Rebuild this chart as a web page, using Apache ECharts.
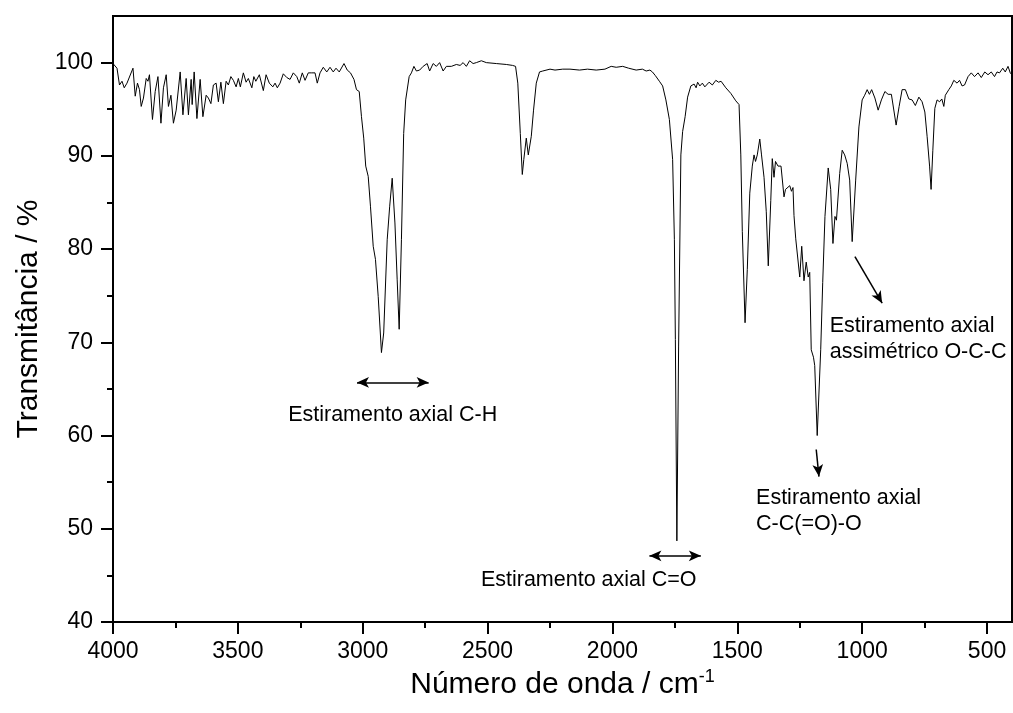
<!DOCTYPE html>
<html>
<head>
<meta charset="utf-8">
<script src="https://cdn.jsdelivr.net/npm/echarts@6/dist/echarts.min.js"></script>
<style>
  html, body { margin: 0; padding: 0; background: #fff; }
  #chart { width: 1013px; height: 713px; }
</style>
</head>
<body>
<div id="chart"></div>
<script>
// FTIR spectrum (cm-1 vs %T)
const wavenumber = [
  4000, 3995, 3984, 3974, 3964, 3955, 3944, 3938, 3920, 3911, 3902, 3894, 3887, 3878, 3867, 3860,
  3854, 3842, 3831, 3820, 3808, 3798, 3787, 3778, 3768, 3758, 3747, 3740, 3731, 3720, 3707, 3698,
  3687, 3683, 3675, 3664, 3651, 3640, 3627, 3618, 3608, 3598, 3587, 3578, 3568, 3558, 3547, 3538,
  3528, 3518, 3507, 3498, 3490, 3478, 3467, 3458, 3444, 3436, 3428, 3414, 3398, 3387, 3374,
  3360, 3351, 3342, 3331, 3318,
  3304, 3291, 3278, 3264, 3254, 3242, 3231, 3218, 3204, 3191, 3182, 3171, 3158, 3144, 3131, 3118,
  3107, 3094, 3075, 3062, 3049, 3035, 3025, 3014, 3005, 2996, 2988, 2978, 2969, 2958, 2949, 2938,
  2925, 2916, 2902, 2892, 2882, 2871, 2862, 2854, 2845, 2836, 2828, 2814, 2805, 2795, 2785, 2772,
  2758, 2742, 2732, 2718, 2705, 2692, 2678, 2665, 2645, 2625, 2610, 2598, 2585, 2572, 2558, 2545,
  2525, 2505, 2465, 2425, 2400, 2388, 2379, 2369, 2361, 2355, 2345, 2337, 2325, 2316, 2305, 2292,
  2279, 2250, 2230, 2199, 2170, 2132, 2100, 2065, 2030, 2005, 1985, 1959, 1935, 1905, 1880, 1865,
  1850, 1840, 1828, 1812, 1799, 1786, 1772, 1759, 1752, 1748, 1742, 1735, 1726, 1719, 1709, 1699,
  1686, 1673, 1665, 1659, 1650, 1640, 1630, 1613, 1600, 1586, 1575, 1565, 1546, 1526, 1506, 1493,
  1486, 1480, 1469, 1460, 1450, 1440, 1433, 1427, 1420, 1410, 1403, 1393, 1384, 1376, 1366, 1360,
  1353, 1347, 1337, 1325, 1313, 1307, 1300, 1290, 1283, 1277, 1273, 1266, 1260, 1250, 1242, 1233,
  1224, 1216, 1210, 1204, 1195, 1190, 1180, 1166, 1158, 1149, 1136, 1126, 1117, 1109, 1103, 1090,
  1080, 1070, 1060, 1050, 1040, 1026, 1013, 1000, 990, 980, 971, 962, 949, 936, 923, 909,
  896, 883, 864, 852, 840, 827, 813, 800, 787, 773, 760, 749, 740, 730, 724, 717,
  709, 700, 690, 681, 673, 667, 660, 653, 643, 633, 620, 610, 600, 590, 576, 563,
  550, 536, 523, 509, 496, 483, 470, 460, 450, 437, 427, 416, 407, 400
];
const transmittance = [
  99.9, 99.75, 99.4, 97.6, 98.0, 97.3, 97.8, 97.6, 99.4, 96.4, 97.8, 97.1, 95.3, 96.2, 98.3, 98.0,
  98.7, 93.9, 96.9, 98.5, 93.5, 97.3, 98.7, 95.3, 96.5, 93.5, 94.9, 94.7, 99.0, 94.4, 98.3, 94.4,
  98.2, 95.5, 99.0, 94.0, 98.2, 94.2, 96.5, 96.2, 95.6, 97.6, 97.8, 95.8, 97.9, 95.6, 98.0, 97.6,
  98.5, 98.1, 97.4, 98.3, 97.4, 98.9, 97.9, 98.3, 97.3, 98.5, 98.0, 98.7, 97.0, 98.7, 97.8,
  97.4, 97.8, 97.3, 97.8, 98.8,
  98.4, 98.2, 98.9, 98.5, 97.8, 98.9, 98.1, 98.9, 98.9, 98.9, 97.8, 98.9, 99.5, 99.0, 99.5, 99.0,
  99.4, 99.0, 99.9, 99.2, 98.9, 98.2, 97.1, 96.9, 94.2, 91.9, 88.9, 87.8, 84.6, 80.3, 78.9, 74.9,
  68.9, 71.0, 81.0, 84.6, 87.6, 82.8, 76.7, 71.4, 81.0, 92.4, 96.0, 98.5, 98.9, 99.6, 99.1, 99.2,
  99.6, 99.9, 99.1, 99.9, 99.6, 100.0, 99.1, 99.6, 99.6, 99.8, 99.7, 100.0, 99.6, 100.2, 99.9, 100.0,
  100.2, 100.0, 99.9, 99.8, 99.7, 99.6, 97.8, 92.4, 88.0, 89.6, 91.9, 90.1, 92.1, 94.9, 97.8, 99.0,
  99.1, 99.3, 99.2, 99.3, 99.3, 99.2, 99.3, 99.2, 99.3, 99.6, 99.5, 99.6, 99.4, 99.2, 99.3, 99.1,
  99.2, 99.0, 98.6, 98.0, 97.5, 96.0, 93.9, 89.6, 81.0, 70.3, 48.7, 69.6, 90.1, 92.6, 94.2, 96.3,
  97.5, 97.7, 97.3, 97.9, 97.5, 97.8, 97.4, 97.9, 97.6, 98.1, 97.9, 98.0, 97.3, 96.7, 95.9, 95.5,
  90.1, 81.9, 72.1, 77.8, 86.0, 88.9, 90.1, 89.4, 90.1, 91.8, 90.1, 87.7, 84.0, 78.2, 85.2, 89.7,
  87.7, 89.4, 88.9, 88.9, 85.6, 86.4, 86.2, 86.8, 86.2, 86.6, 83.6, 81.1, 80.9, 77.0, 80.3, 76.6,
  78.6, 77.0, 77.5, 69.2, 68.4, 67.5, 60.0, 69.2, 76.4, 83.5, 88.7, 86.4, 80.6, 83.5, 83.1, 88.1,
  90.6, 90.1, 89.2, 87.4, 80.8, 87.4, 93.1, 96.0, 96.5, 97.1, 96.6, 97.1, 96.2, 94.9, 96.0, 96.9,
  96.6, 96.6, 93.3, 95.3, 97.1, 97.1, 96.1, 96.0, 95.4, 96.3, 95.8, 94.7, 92.1, 88.9, 86.4, 90.6,
  95.1, 96.0, 95.8, 96.1, 95.3, 96.5, 96.3, 97.1, 97.5, 98.1, 97.8, 98.1, 97.5, 97.6, 98.5, 98.9,
  98.5, 98.9, 98.4, 99.0, 98.7, 99.0, 98.5, 99.0, 98.9, 99.4, 99.0, 99.6, 98.9, 98.7
];

const xMajorTicks = [4000, 3500, 3000, 2500, 2000, 1500, 1000, 500];
const xMinorTicks = [3750, 3250, 2750, 2250, 1750, 1250, 750];
const yMajorTicks = [40, 50, 60, 70, 80, 90, 100];
const yMinorTicks = [45, 55, 65, 75, 85, 95];

// annotation arrows: [from], [to], double-headed?
const arrows = [
  [[3023, 65.7], [2736, 65.7], true],
  [[1852, 47.1], [1646, 47.1], true],
  [[1184, 58.5], [1173, 55.6], false],
  [[1029, 79.2], [920, 74.2], false]
];
// annotation labels: text, wavenumber, %T, anchor
const notes = [
  ['Estiramento axial C-H', 2880, 62.2, 'center'],
  ['Estiramento axial C=O', 2095, 44.55, 'center'],
  ['Estiramento axial\nC-C(=O)-O', 1425, 51.9, 'left'],
  ['Estiramento axial\nassimétrico O-C-C', 1130, 70.3, 'left']
];

const FONT = '"Liberation Sans", Arial, sans-serif';
const spectrum = wavenumber.map((w, i) => [w, transmittance[i]]);

const chart = echarts.init(document.getElementById('chart'), null, { renderer: 'canvas' });

chart.setOption({
  backgroundColor: '#fff',
  animation: false,
  grid: {
    left: 113, right: 1, top: 16, bottom: 91,
    show: true, borderColor: '#000', borderWidth: 2, backgroundColor: 'transparent'
  },
  xAxis: [
    {
      type: 'value', min: 400, max: 4000, inverse: true,
      name: 'Número de onda / cm{sup|-1}',
      nameLocation: 'middle', nameGap: 44,
      nameTextStyle: {
        color: '#000', fontFamily: FONT, fontSize: 30,
        rich: { sup: { fontSize: 18, fontFamily: FONT, color: '#000', verticalAlign: 'top', padding: [0, 0, 16, 0] } }
      },
      axisLine: { lineStyle: { color: '#000', width: 2 } },
      axisTick: { inside: false, length: 12, lineStyle: { color: '#000', width: 2 }, customValues: xMajorTicks },
      axisLabel: {
        color: '#000', fontFamily: FONT, fontSize: 23, margin: 18,
        customValues: xMajorTicks, formatter: v => String(v)
      },
      splitLine: { show: false }
    },
    {
      type: 'value', min: 400, max: 4000, inverse: true, position: 'bottom',
      axisLine: { show: false },
      axisTick: { inside: false, length: 6, lineStyle: { color: '#000', width: 2 }, customValues: xMinorTicks },
      axisLabel: { show: false },
      splitLine: { show: false }
    }
  ],
  yAxis: [
    {
      type: 'value', min: 40, max: 105,
      name: 'Transmitância / %',
      nameLocation: 'middle', nameGap: 68,
      nameTextStyle: { color: '#000', fontFamily: FONT, fontSize: 30 },
      axisLine: { show: true, lineStyle: { color: '#000', width: 2 } },
      axisTick: { show: true, inside: false, length: 12, lineStyle: { color: '#000', width: 2 }, customValues: yMajorTicks },
      axisLabel: {
        color: '#000', fontFamily: FONT, fontSize: 23, margin: 20,
        customValues: yMajorTicks, formatter: v => String(v)
      },
      splitLine: { show: false }
    },
    {
      type: 'value', min: 40, max: 105, position: 'left',
      axisLine: { show: false },
      axisTick: { show: true, inside: false, length: 6, lineStyle: { color: '#000', width: 2 }, customValues: yMinorTicks },
      axisLabel: { show: false },
      splitLine: { show: false }
    }
  ],
  series: [
    {
      type: 'line',
      data: spectrum,
      showSymbol: false,
      symbol: 'none',
      lineStyle: { color: '#000', width: 1 },
      emphasis: { disabled: true },
      markLine: {
        silent: true,
        symbol: ['none', 'arrow'],
        symbolSize: [8, 12],
        label: { show: false },
        lineStyle: { color: '#000', width: 1.5, type: 'solid' },
        data: arrows.map(a => [
          { coord: a[0], symbol: a[2] ? 'arrow' : 'none' },
          { coord: a[1], symbol: 'arrow' }
        ])
      }
    },
    {
      type: 'scatter',
      symbolSize: 0,
      silent: true,
      itemStyle: { opacity: 1, color: '#000' },
      data: notes.map(n => ({
        value: [n[1], n[2]],
        label: { align: n[3] }
      })),
      label: {
        show: true,
        position: 'inside',
        verticalAlign: 'middle',
        color: '#000',
        opacity: 1,
        textBorderWidth: 0,
        fontFamily: FONT,
        fontSize: 21.5,
        lineHeight: 26,
        formatter: p => notes[p.dataIndex][0]
      }
    }
  ]
});
</script>
</body>
</html>
